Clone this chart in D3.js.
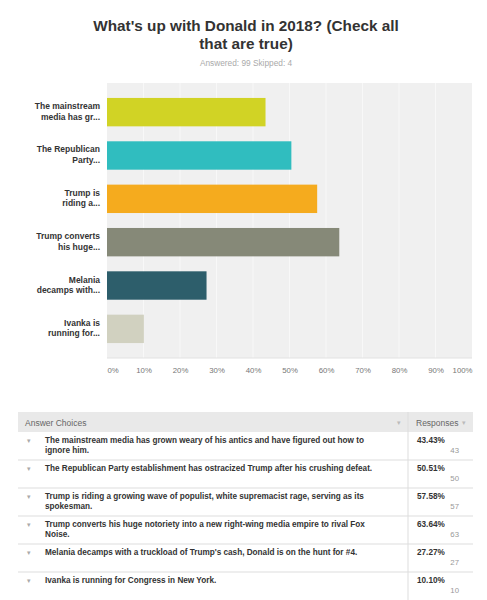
<!DOCTYPE html>
<html>
<head>
<meta charset="utf-8">
<script src="https://cdn.jsdelivr.net/npm/d3@7"></script>
<style>
  body { margin: 0; background: #fff; }
  svg text { font-family: "Liberation Sans", Arial, sans-serif; }
</style>
</head>
<body>
<svg id="grafico"></svg>
<script>
var rotulosCurtos = [
  ['The mainstream', 'media has gr...'],
  ['The Republican', 'Party...'],
  ['Trump is', 'riding a...'],
  ['Trump converts', 'his huge...'],
  ['Melania', 'decamps with...'],
  ['Ivanka is', 'running for...']
];
var respostasTexto = [
  ['The mainstream media has grown weary of his antics and have figured out how to', 'ignore him.'],
  ['The Republican Party establishment has ostracized Trump after his crushing defeat.'],
  ['Trump is riding a growing wave of populist, white supremacist rage, serving as its', 'spokesman.'],
  ['Trump converts his huge notoriety into a new right-wing media empire to rival Fox', 'Noise.'],
  ["Melania decamps with a truckload of Trump's cash, Donald is on the hunt for #4."],
  ['Ivanka is running for Congress in New York.']
];
var percentuais = [43.43, 50.51, 57.58, 63.64, 27.27, 10.10];
var contagens = [43, 50, 57, 63, 27, 10];
var cores = ['#d1d325', '#30bdbf', '#f5ab1e', '#868978', '#2d5e6b', '#d1d1c0'];
var ticks = [0, 10, 20, 30, 40, 50, 60, 70, 80, 90, 100];

var largura = 487, altura = 600;
var svg = d3.select('#grafico').attr('width', largura).attr('height', altura);

// titulo
svg.append('text').attr('x', 246).attr('y', 31).attr('text-anchor', 'middle')
   .style('font-size', '15.3px').style('font-weight', 'bold').attr('fill', '#333')
   .text("What's up with Donald in 2018? (Check all");
svg.append('text').attr('x', 246).attr('y', 49).attr('text-anchor', 'middle')
   .style('font-size', '15.3px').style('font-weight', 'bold').attr('fill', '#333')
   .text('that are true)');
svg.append('text').attr('x', 246).attr('y', 66).attr('text-anchor', 'middle')
   .style('font-size', '8.3px').attr('fill', '#aaa')
   .text('Answered: 99    Skipped: 4');

// grafico de barras
var margem = { esquerda: 107, superior: 83 };
var larguraPlotagem = 365, alturaPlotagem = 275;
var plotagem = svg.append('g')
                  .attr('transform', 'translate(' + margem.esquerda + ',' + margem.superior + ')');

var x = d3.scaleLinear().domain([0, 100]).range([0, larguraPlotagem]);
var y = d3.scaleBand().domain(d3.range(percentuais.length)).range([0, alturaPlotagem]).padding(0.345);

plotagem.append('rect').attr('width', larguraPlotagem).attr('height', alturaPlotagem).attr('fill', '#f0f0f0');
plotagem.selectAll('.grade').data(ticks.slice(1, -1)).enter()
  .append('line').classed('grade', true)
  .attr('x1', d => x(d)).attr('x2', d => x(d))
  .attr('y1', 0).attr('y2', alturaPlotagem)
  .attr('stroke', '#f8f8f8').attr('stroke-width', 1);
plotagem.append('line').attr('x1', 0).attr('x2', larguraPlotagem)
  .attr('y1', alturaPlotagem).attr('y2', alturaPlotagem)
  .attr('stroke', '#e2e2e2');

plotagem.selectAll('.barra').data(percentuais).enter()
  .append('rect').classed('barra', true)
  .attr('x', 0).attr('y', (d, i) => y(i))
  .attr('width', d => x(d)).attr('height', y.bandwidth())
  .attr('fill', (d, i) => cores[i]);

var rotulos = plotagem.selectAll('.rotulo').data(rotulosCurtos).enter()
  .append('text').classed('rotulo', true)
  .attr('x', -7)
  .attr('y', (d, i) => y(i) + y.bandwidth() / 2 - 3)
  .attr('text-anchor', 'end')
  .style('font-size', '8.5px').style('font-weight', 'bold').attr('fill', '#333');
rotulos.selectAll('tspan').data(d => d).enter()
  .append('tspan').attr('x', -7).attr('dy', (d, i) => i === 0 ? 0 : 10.5).text(d => d);

var eixoX = d3.axisBottom(x).tickValues(ticks).tickFormat(d => d + '%').tickSize(0).tickPadding(9);
var gEixo = plotagem.append('g').attr('transform', 'translate(0,' + alturaPlotagem + ')').call(eixoX);
gEixo.select('.domain').remove();
gEixo.selectAll('text').style('font-size', '7.8px').attr('fill', '#777')
  .style('font-family', '"Liberation Sans", Arial, sans-serif')
  .attr('text-anchor', d => d === 0 ? 'start' : (d === 100 ? 'end' : 'middle'));

// tabela
var tab = { esquerda: 18, direita: 473, divisor: 408, topo: 412, cabecalho: 20, linha: 28 };
var yLinha = d3.scaleLinear().domain([0, respostasTexto.length])
  .range([tab.topo + tab.cabecalho, tab.topo + tab.cabecalho + tab.linha * respostasTexto.length]);

svg.append('rect').attr('x', tab.esquerda).attr('y', tab.topo)
   .attr('width', tab.direita - tab.esquerda).attr('height', tab.cabecalho).attr('fill', '#e9e9e9');
svg.append('text').attr('x', 25).attr('y', tab.topo + 13.5).style('font-size', '8.5px').attr('fill', '#666').text('Answer Choices');
svg.append('text').attr('x', 416).attr('y', tab.topo + 13.5).style('font-size', '8.5px').attr('fill', '#666').text('Responses');
svg.append('text').attr('x', 399).attr('y', tab.topo + 13).attr('text-anchor', 'middle').style('font-size', '7px').attr('fill', '#bbb').text('▾');
svg.append('text').attr('x', 464).attr('y', tab.topo + 13).attr('text-anchor', 'middle').style('font-size', '7px').attr('fill', '#bbb').text('▾');
svg.append('line').attr('x1', tab.divisor).attr('x2', tab.divisor)
   .attr('y1', tab.topo).attr('y2', altura).attr('stroke', '#ddd');

var linhas = svg.selectAll('.linha').data(respostasTexto).enter()
  .append('g').classed('linha', true)
  .attr('transform', (d, i) => 'translate(0,' + yLinha(i) + ')');

linhas.filter((d, i) => i > 0).append('line')
  .attr('x1', tab.esquerda).attr('x2', tab.direita).attr('y1', 0).attr('y2', 0)
  .attr('stroke', '#ddd');
linhas.append('text').attr('x', 29).attr('y', 11).attr('text-anchor', 'middle')
  .style('font-size', '7px').attr('fill', '#aaa').text('▾');
var textos = linhas.append('text').attr('y', 11)
  .style('font-size', '8.2px').style('font-weight', 'bold').attr('fill', '#333');
textos.selectAll('tspan').data(d => d).enter()
  .append('tspan').attr('x', 45).attr('dy', (d, i) => i === 0 ? 0 : 9.5).text(d => d);
linhas.append('text').attr('x', 417).attr('y', 11)
  .style('font-size', '8.2px').style('font-weight', 'bold').attr('fill', '#333')
  .text((d, i) => percentuais[i].toFixed(2) + '%');
linhas.append('text').attr('x', 459).attr('y', 21).attr('text-anchor', 'end')
  .style('font-size', '7.8px').attr('fill', '#999')
  .text((d, i) => contagens[i]);
</script>
</body>
</html>
